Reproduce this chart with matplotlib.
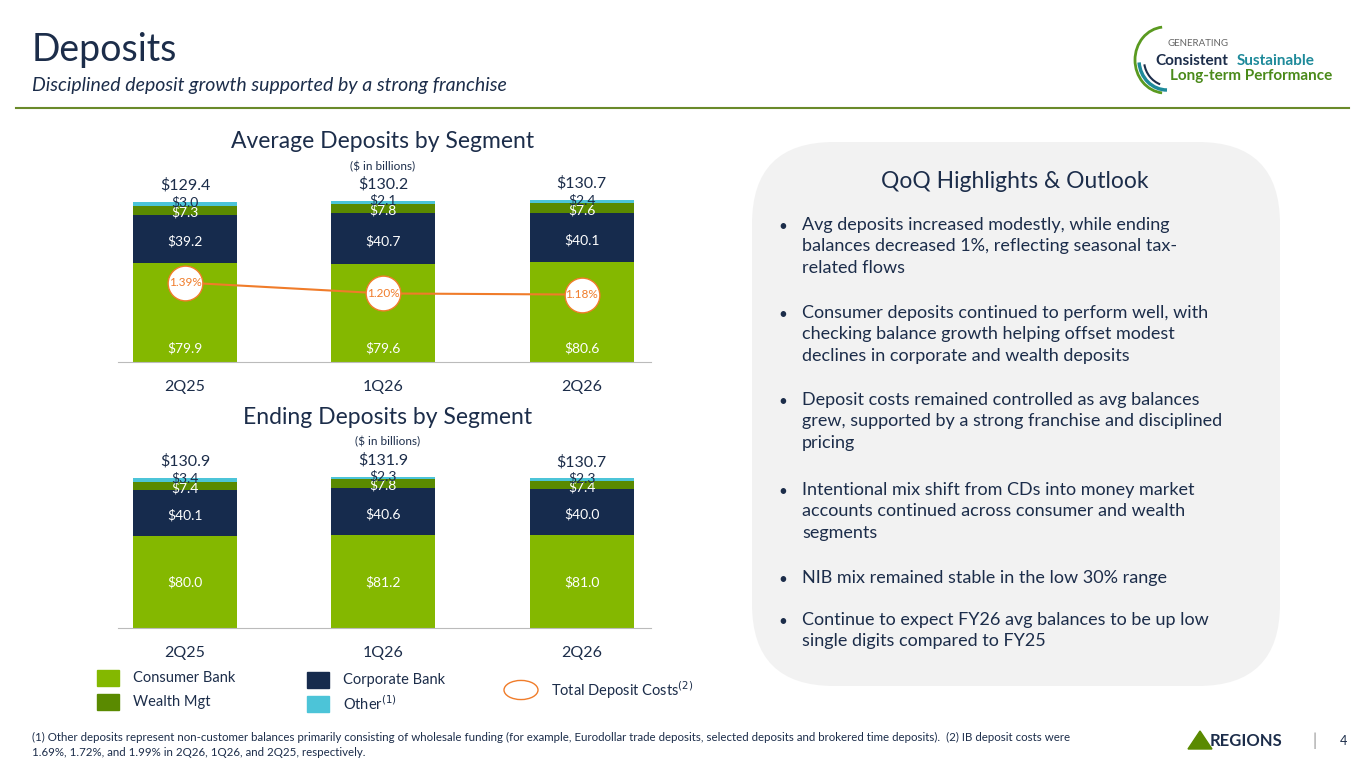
import numpy as np
import matplotlib.pyplot as plt
from matplotlib.patches import FancyBboxPatch, Arc

plt.rcParams['font.family'] = ['Lato', 'DejaVu Sans']

# data
quarters = ["2Q25", "1Q26", "2Q26"]
avg_consumer = [79.9, 79.6, 80.6]
avg_corporate = [39.2, 40.7, 40.1]
avg_wealth = [7.3, 7.8, 7.6]
avg_other = [3.0, 2.1, 2.4]
avg_total = [129.4, 130.2, 130.7]
deposit_costs = [1.39, 1.20, 1.18]
end_consumer = [80.0, 81.2, 81.0]
end_corporate = [40.1, 40.6, 40.0]
end_wealth = [7.4, 7.8, 7.4]
end_other = [3.4, 2.3, 2.3]
end_total = [130.9, 131.9, 130.7]

bullets = [
    "Avg deposits increased modestly, while ending\nbalances decreased 1%, reflecting seasonal tax-\nrelated flows",
    "Consumer deposits continued to perform well, with\nchecking balance growth helping offset modest\ndeclines in corporate and wealth deposits",
    "Deposit costs remained controlled as avg balances\ngrew, supported by a strong franchise and disciplined\npricing",
    "Intentional mix shift from CDs into money market\naccounts continued across consumer and wealth\nsegments",
    "NIB mix remained stable in the low 30% range",
    "Continue to expect FY26 avg balances to be up low\nsingle digits compared to FY25",
]

NAVY = "#1c2d4a"
C_CONS = "#84b800"
C_CORP = "#162b4d"
C_WEALTH = "#5a8a00"
C_OTHER = "#4cc4d8"
ORANGE = "#f07c2a"
W, H = 1365, 768

fig = plt.figure(figsize=(13.65, 7.68), dpi=100)
fig.patch.set_facecolor("white")

def px(x, y):
    return x / W, 1 - y / H

# header
fig.text(*px(32, 50), "Deposits", fontsize=27, color=NAVY, va="center")
fig.text(*px(32, 86), "Disciplined deposit growth supported by a strong franchise",
         fontsize=14, color=NAVY, style="italic", va="center")
fig.add_artist(plt.Line2D([0.012, 0.988], [1 - 108 / H] * 2, color="#6a8a2a", lw=1.5))

# logo
fig.text(*px(1168, 44), "GENERATING", fontsize=7, color="#666666", va="center")
fig.text(*px(1155, 61), "Consistent", fontsize=11, color=NAVY, weight="bold", va="center")
fig.text(*px(1237, 61), "Sustainable", fontsize=11, color="#1e8a9a", weight="bold", va="center")
fig.text(*px(1170, 76), "Long-term Performance", fontsize=11, color="#4a8a1a", weight="bold", va="center")
lax = fig.add_axes([1125 / W, 1 - 100 / H, 60 / W, 80 / H])
lax.set_xlim(0, 60); lax.set_ylim(0, 80); lax.axis("off")
lax.add_patch(Arc((40, 40), 60, 66, theta1=95, theta2=265, color="#5a9a20", lw=2))
lax.add_patch(Arc((42, 40), 56, 60, theta1=185, theta2=270, color="#1e8a9a", lw=2.5))
lax.add_patch(Arc((44, 40), 50, 52, theta1=190, theta2=250, color=NAVY, lw=1.5))


def stacked(ax, cons, corp, wealth, other, total, ymax, cons_label_y):
    x = np.arange(len(quarters))
    bw = 0.525
    ax.bar(x, cons, bw, color=C_CONS)
    ax.bar(x, corp, bw, bottom=cons, color=C_CORP)
    bot3 = np.array(cons) + np.array(corp)
    ax.bar(x, wealth, bw, bottom=bot3, color=C_WEALTH)
    bot4 = bot3 + np.array(wealth)
    ax.bar(x, other, bw, bottom=bot4, color=C_OTHER)
    for i in range(len(x)):
        ax.text(x[i], cons_label_y, f"${cons[i]:.1f}", ha="center", va="center", color="white", fontsize=10)
        ax.text(x[i], cons[i] + corp[i] / 2 - 2, f"${corp[i]:.1f}", ha="center", va="center", color="white", fontsize=10)
        ax.text(x[i], bot3[i] + wealth[i] / 2 - 1.5, f"${wealth[i]:.1f}", ha="center", va="center", color="white", fontsize=10)
        ax.text(x[i], bot4[i] + other[i] / 2 + 1.5, f"${other[i]:.1f}", ha="center", va="center", color=NAVY, fontsize=10)
        ax.text(x[i], total[i] + 8, f"${total[i]:.1f}", ha="center", va="bottom", color=NAVY, fontsize=11.5)
    ax.set_xlim(-0.338, 2.35)
    ax.set_ylim(0, ymax)
    ax.set_xticks(x, quarters)
    ax.tick_params(axis="x", length=0, labelsize=11.5, labelcolor=NAVY, pad=13)
    ax.set_yticks([])
    for s in ["top", "left", "right"]:
        ax.spines[s].set_visible(False)
    ax.spines["bottom"].set_color("#bbbbbb")


ax1 = fig.add_axes([118 / W, 1 - 362 / H, 533 / W, 200 / H])
stacked(ax1, avg_consumer, avg_corporate, avg_wealth, avg_other, avg_total, 161.8, 11)
ax1b = ax1.twinx()
ax1b.plot(np.arange(3), deposit_costs, color=ORANGE, lw=1.5, marker="o", ms=25,
          mfc="white", mec=ORANGE, mew=1)
for i, v in enumerate(deposit_costs):
    ax1b.text(i, v, f"{v:.2f}%", ha="center", va="center", color=ORANGE, fontsize=8.5)
ax1b.set_ylim(0, 3.5)
ax1b.axis("off")
fig.text(*px(383, 142), "Average Deposits by Segment", fontsize=16.5, color=NAVY, ha="center", va="center")
fig.text(*px(383, 167), "($ in billions)", fontsize=8.5, color=NAVY, ha="center", va="center")

ax2 = fig.add_axes([118 / W, 1 - 628 / H, 533 / W, 170 / H])
stacked(ax2, end_consumer, end_corporate, end_wealth, end_other, end_total, 148.3, 40)
fig.text(*px(388, 418), "Ending Deposits by Segment", fontsize=16.5, color=NAVY, ha="center", va="center")
fig.text(*px(388, 442), "($ in billions)", fontsize=8.5, color=NAVY, ha="center", va="center")

# legend
for (x, y, c, lab) in [(97, 678, C_CONS, "Consumer Bank"), (97, 702, C_WEALTH, "Wealth Mgt"),
                        (307, 680, C_CORP, "Corporate Bank"), (307, 704, C_OTHER, "Other$^{(1)}$")]:
    fig.add_artist(plt.Rectangle(px(x, y + 8), 22 / W, 16 / H, color=c))
    fig.text(*px(x + 36, y), lab, fontsize=10.5, color=NAVY, va="center")
fig.add_artist(plt.Circle(px(521, 690), 17 / W, transform=fig.transFigure, fill=False, ec=ORANGE, lw=1))
fig.text(*px(551, 690), "Total Deposit Costs$^{(2)}$", fontsize=10.5, color=NAVY, va="center")

# highlights panel
fig.add_artist(FancyBboxPatch(px(752, 686), (1280 - 752) / W, (686 - 142) / H,
                              boxstyle="round,pad=0,rounding_size=0.06", transform=fig.transFigure,
                              fc="#f2f2f2", ec="none", mutation_aspect=W / H))
fig.text(*px(1015, 182), "QoQ Highlights & Outlook", fontsize=16.5, color=NAVY, ha="center", va="center")
ys = [217, 305, 392, 482, 570, 612]
for y, b in zip(ys, bullets):
    fig.text(*px(778, y + 3), "•", fontsize=11, color=NAVY, va="top")
    fig.text(*px(802, y), b, fontsize=13, color=NAVY, va="top", linespacing=1.42)

# footer
fig.text(*px(32, 745), "(1) Other deposits represent non-customer balances primarily consisting of wholesale funding (for example, Eurodollar trade deposits, selected deposits and brokered time deposits).  (2) IB deposit costs were\n1.69%, 1.72%, and 1.99% in 2Q26, 1Q26, and 2Q25, respectively.",
         fontsize=8.3, color=NAVY, va="center", linespacing=1.4)
fig.text(*px(1210, 741), "REGIONS", fontsize=12, color=NAVY, weight="bold", va="center")
fig.text(*px(1312, 741), "|", fontsize=12, color="#999999", va="center")
fig.text(*px(1340, 741), "4", fontsize=9, color=NAVY, va="center")
fig.add_artist(plt.Polygon([px(1188, 749), px(1200, 731), px(1212, 749)], color="#5a8a00"))

fig.savefig("out.png", dpi=100)
